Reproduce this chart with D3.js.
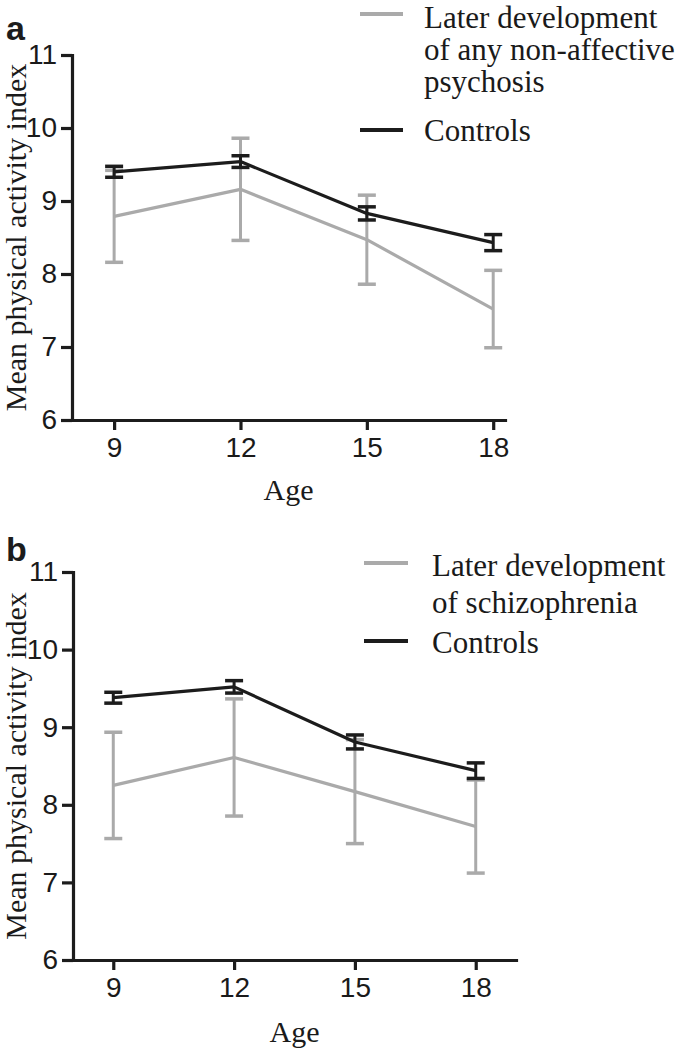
<!DOCTYPE html>
<html>
<head>
<meta charset="utf-8">
<script src="https://cdn.jsdelivr.net/npm/d3@7"></script>
<style>
  html, body { margin: 0; padding: 0; background: #fff; }
  svg { display: block; }
  .serif { font-family: "Liberation Serif", "DejaVu Serif", serif; font-size: 30px; fill: #1a1a1a; }
  .legend { font-size: 31px; }
</style>
</head>
<body>
<svg id="chart" width="685" height="1049"></svg>
<script>
'use strict';

// ── Data ─────────────────────────────────────────────────────
const ages   = [9, 12, 15, 18];
const yTicks = [6, 7, 8, 9, 10, 11];

// panel a
const psychosisMean = [8.79, 9.16, 8.47, 7.52];
const psychosisErr  = [0.63, 0.70, 0.61, 0.53];
const controlsAMean = [9.40, 9.54, 8.83, 8.43];
const controlsAErr  = [0.075, 0.08, 0.09, 0.11];

// panel b
const schizMean     = [8.25, 8.61, 8.17, 7.72];
const schizErr      = [0.685, 0.755, 0.67, 0.60];
const controlsBMean = [9.38, 9.52, 8.81, 8.44];
const controlsBErr  = [0.07, 0.08, 0.09, 0.10];

const legendA = [['Later development', 'of any non-affective', 'psychosis'], ['Controls']];
const legendB = [['Later development', 'of schizophrenia'], ['Controls']];

const GREY  = '#aaaaaa';
const BLACK = '#1c1c1c';

const svg = d3.select('#chart');

function series(mean, err) {
  return ages.map((a, i) => ({ age: a, v: mean[i], e: err[i] }));
}

// ── One panel ────────────────────────────────────────────────
function drawPanel(p) {
  const g = svg.append('g');
  const x = d3.scaleLinear().domain(p.xDomain).range(p.xRange);
  const y = d3.scaleLinear().domain([6, 11]).range(p.yRange);

  // axes
  const yAxis = g.append('g')
    .attr('transform', `translate(${p.xRange[0]},0)`)
    .call(d3.axisLeft(y).tickValues(yTicks).tickSize(11).tickSizeOuter(0).tickPadding(4).tickFormat(d3.format('d')));
  const xAxis = g.append('g')
    .attr('transform', `translate(0,${p.yRange[0]})`)
    .call(d3.axisBottom(x).tickValues(ages).tickSize(10).tickSizeOuter(0).tickPadding(7).tickFormat(d3.format('d')));
  [yAxis, xAxis].forEach(a => {
    a.attr('font-family', '"Liberation Sans", Arial, sans-serif').attr('font-size', 28);
    a.selectAll('text').attr('fill', '#1a1a1a');
    a.selectAll('path, line').attr('stroke', BLACK).attr('stroke-width', 3.2);
    a.select('.domain').attr('stroke-linecap', 'square');
  });

  // series: grey first, controls on top
  p.series.forEach(s => {
    const data = series(s.mean, s.err);
    const sg = g.append('g');
    sg.append('path')
      .datum(data)
      .attr('fill', 'none')
      .attr('stroke', s.color)
      .attr('stroke-width', 3.2)
      .attr('stroke-linejoin', 'round')
      .attr('d', d3.line().x(d => x(d.age)).y(d => y(d.v)));

    const eb = sg.selectAll('g.err').data(data).join('g').attr('class', 'err');
    eb.append('line')
      .attr('x1', d => x(d.age)).attr('x2', d => x(d.age))
      .attr('y1', d => y(d.v - d.e)).attr('y2', d => y(d.v + d.e))
      .attr('stroke', s.color).attr('stroke-width', 3);
    [-1, 1].forEach(sign => {
      eb.append('line')
        .attr('x1', d => x(d.age) - 9).attr('x2', d => x(d.age) + 9)
        .attr('y1', d => y(d.v + sign * d.e)).attr('y2', d => y(d.v + sign * d.e))
        .attr('stroke', s.color).attr('stroke-width', 3.5);
    });
  });

  // axis titles
  g.append('text').attr('class', 'serif')
    .attr('text-anchor', 'middle')
    .attr('transform', `translate(26,${(p.yRange[0] + p.yRange[1]) / 2}) rotate(-90)`)
    .text('Mean physical activity index');
  g.append('text').attr('class', 'serif')
    .attr('text-anchor', 'middle')
    .attr('x', (p.xRange[0] + p.xRange[1]) / 2)
    .attr('y', p.ageY)
    .text('Age');

  // panel letter
  g.append('text')
    .attr('x', 6).attr('y', p.letterY)
    .attr('font-family', '"Liberation Sans", Arial, sans-serif')
    .attr('font-weight', 'bold').attr('font-size', 34)
    .attr('fill', BLACK)
    .text(p.letter);

  // legend
  p.legend.forEach((lg, i) => {
    g.append('line')
      .attr('x1', lg.sx[0]).attr('x2', lg.sx[1])
      .attr('y1', lg.sy).attr('y2', lg.sy)
      .attr('stroke', p.series[i].color).attr('stroke-width', 4);
    lg.lines.forEach((t, j) => {
      g.append('text').attr('class', 'serif legend')
        .attr('x', lg.tx).attr('y', lg.ty[j])
        .text(t);
    });
  });
}

drawPanel({
  letter: 'a', letterY: 40,
  xDomain: [8, 18.28], xRange: [72, 505],
  yRange: [420, 55],
  ageY: 500,
  series: [
    { mean: psychosisMean, err: psychosisErr, color: GREY },
    { mean: controlsAMean, err: controlsAErr, color: BLACK },
  ],
  legend: [
    { sx: [360, 403], sy: 14,  tx: 424, ty: [28, 60, 92], lines: legendA[0] },
    { sx: [360, 403], sy: 130, tx: 424, ty: [141],        lines: legendA[1] },
  ],
});

drawPanel({
  letter: 'b', letterY: 561,
  xDomain: [8, 19], xRange: [73, 516],
  yRange: [960, 572],
  ageY: 1042,
  series: [
    { mean: schizMean,     err: schizErr,     color: GREY },
    { mean: controlsBMean, err: controlsBErr, color: BLACK },
  ],
  legend: [
    { sx: [364, 408], sy: 563, tx: 432, ty: [576, 613], lines: legendB[0] },
    { sx: [364, 408], sy: 641, tx: 432, ty: [653],      lines: legendB[1] },
  ],
});
</script>
</body>
</html>
